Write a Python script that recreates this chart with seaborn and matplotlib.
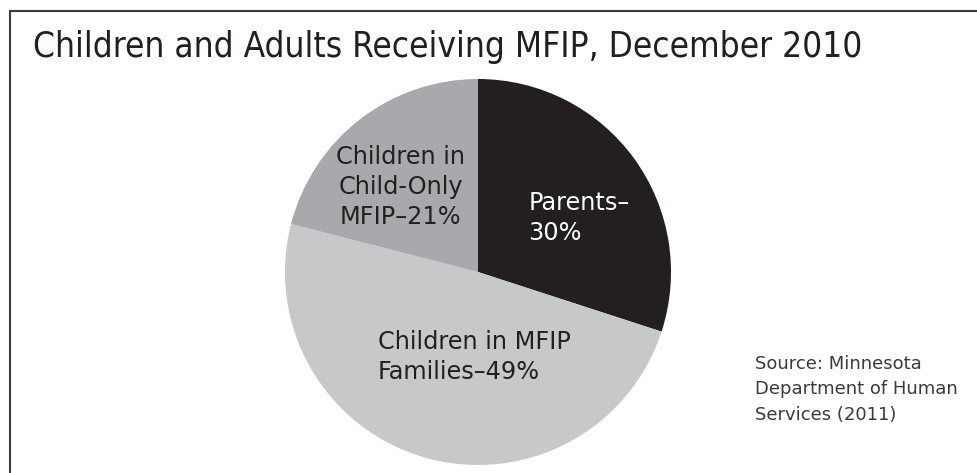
import matplotlib
matplotlib.use("Agg")
import matplotlib.pyplot as plt
from matplotlib.lines import Line2D
import seaborn as sns

# data
groups = ["Parents", "Children in MFIP Families", "Children in Child-Only MFIP"]
shares = [30, 49, 21]
slice_labels = ["Parents–\n30%", "Children in MFIP\nFamilies–49%", "Children in\nChild-Only\nMFIP–21%"]
title = "Children and Adults Receiving MFIP, December 2010"
source = "Source: Minnesota\nDepartment of Human\nServices (2011)"

sns.set_theme(style="white")
plt.rcParams['font.family'] = ['DejaVu Sans']

colors = ["#231f20", "#c7c8ca", "#a7a9ac"]
text_colors = ["white", "#231f20", "#231f20"]
# label anchor (x, y, ha) in pie data coords
label_pos = [(0.26, 0.28, 'left', 'left'), (-0.52, -0.44, 'left', 'left'), (-0.40, 0.44, 'center', 'center')]

W, H = 977, 473
fig = plt.figure(figsize=(W / 100, H / 100), dpi=100)

cx, cy, r = 478, 272, 193
ax = fig.add_axes([(cx - r) / W, (H - cy - r) / H, 2 * r / W, 2 * r / H])
wedges, _ = ax.pie(shares, colors=colors, startangle=90, counterclock=False,
                   radius=1, wedgeprops=dict(linewidth=0))
ax.set_xlim(-1, 1)
ax.set_ylim(-1, 1)
ax.set_aspect('equal')
ax.axis('off')

for lab, (x, y, ha, ma), tc in zip(slice_labels, label_pos, text_colors):
    ax.text(x, y, lab, ha=ha, va='center', multialignment=ma, fontsize=17.3,
            color=tc, linespacing=1.32)

t = fig.text(33 / W, 1 - 57 / H, title, fontsize=27, color="#231f20",
             ha='left', va='baseline', fontstretch='condensed', fontweight='light')
# fit title to the reference width (~827 px)
fig.canvas.draw()
w = t.get_window_extent().width
if w > 827:
    t.set_fontsize(27 * 827 / w)

fig.text(755 / W, 1 - 355 / H, source, fontsize=13, color="#3a3a3a",
         ha='left', va='top', linespacing=1.52)

# frame lines (top and left)
fig.add_artist(Line2D([9.5 / W, 9.5 / W], [0, 1 - 11.5 / H], transform=fig.transFigure,
                      color="#3a3a3a", lw=1.5))
fig.add_artist(Line2D([9.5 / W, 1], [1 - 11.5 / H, 1 - 11.5 / H], transform=fig.transFigure,
                      color="#3a3a3a", lw=1.5))

fig.savefig("out.png", dpi=100)
